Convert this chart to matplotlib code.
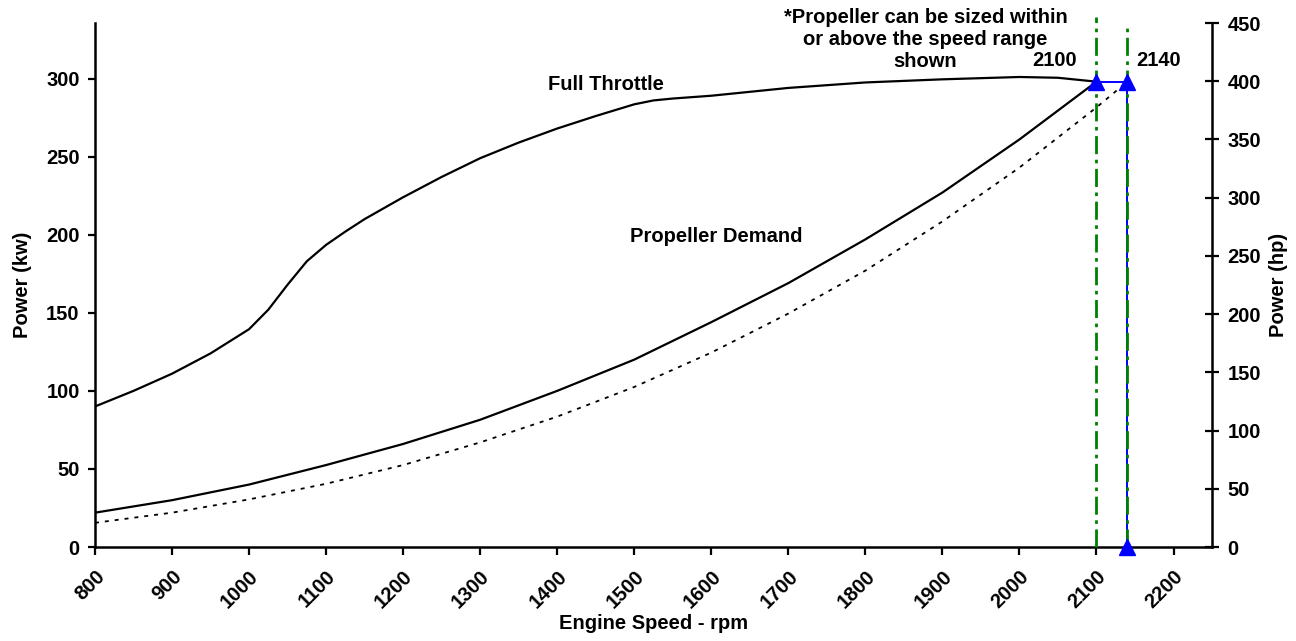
#!/usr/bin/env python3
"""Engine power curve: full throttle vs propeller demand (kW / hp)."""

import matplotlib
matplotlib.use('Agg')
import matplotlib.pyplot as plt

# Full throttle curve (rpm, kW)
ft_rpm = [800, 850, 900, 950, 1000, 1025, 1050, 1075, 1100, 1125, 1150, 1175,
          1200, 1250, 1300, 1350, 1400, 1450, 1500, 1525, 1550, 1600, 1700,
          1800, 1900, 2000, 2050, 2100]
ft_kw = [90, 100, 111, 124, 139.5, 152, 168, 183, 193.5, 202, 210, 217,
         224, 237, 249, 259, 268, 276, 283.5, 286, 287.2, 289, 294,
         297.5, 299.5, 301, 300.5, 298]

# Propeller demand (rated at 2100 rpm)
pd_rpm = [800, 900, 1000, 1100, 1200, 1300, 1400, 1500, 1600, 1700, 1800, 1900, 2000, 2100]
pd_kw = [22, 30, 40, 52.5, 66, 81.5, 100, 120, 144, 169, 197, 227, 261, 298]

# Propeller demand (rated at 2140 rpm, dotted)
pd2_rpm = [800, 900, 1000, 1100, 1200, 1300, 1400, 1500, 1600, 1700, 1800, 1900, 2000, 2100, 2140]
pd2_kw = [15.5, 22, 30.5, 40.5, 52.5, 67, 83.5, 102.5, 124.5, 149.5, 177, 208.5, 243, 281.5, 298]

# Rated points
rated_rpm = [2100, 2140, 2140]
rated_kw = [298, 298, 0]
range_labels = ['2100', '2140']
note_lines = ['*Propeller can be sized within', 'or above the speed range', 'shown']

x_ticks = list(range(800, 2201, 100))
kw_ticks = list(range(0, 301, 50))
hp_ticks = list(range(0, 451, 50))
KW_PER_HP = 0.7457

FONT = 'Liberation Sans'
FS = 14.5

plt.rcParams['font.family'] = FONT
plt.rcParams['font.weight'] = 'bold'

fig = plt.figure(figsize=(12.96, 6.41), dpi=100)
ax = fig.add_axes([0.0733, 0.1466, 0.9352 - 0.0733, 0.9641 - 0.1466])

ax.plot(ft_rpm, ft_kw, color='black', lw=1.6)
ax.plot(pd_rpm, pd_kw, color='black', lw=1.6)
ax.plot(pd2_rpm, pd2_kw, color='black', lw=1.3, linestyle=(0, (2.2, 3.3)))

# blue rated-range line and markers
ax.plot(rated_rpm, rated_kw, color='blue', lw=1.4, zorder=3)
ax.plot(rated_rpm, rated_kw, linestyle='none', marker='^', ms=11,
        color='blue', zorder=6, clip_on=False)

# green speed range lines
top_kw = 450 * KW_PER_HP
for r, ytop in zip([2100, 2140], [top_kw + 4, top_kw]):
    ax.plot([r, r], [0, ytop], color='green', lw=2.0,
            linestyle=(0, (6.5, 2.0, 1.3, 2.0)), zorder=4, clip_on=False)

ax.set_xlim(800, 2250)
ax.set_ylim(0, top_kw)
ax.set_xticks(x_ticks)
ax.set_xticklabels([str(t) for t in x_ticks], rotation=45, ha='right',
                   va='top', rotation_mode='anchor', fontsize=FS, fontweight='bold')
ax.set_yticks(kw_ticks)
ax.set_yticklabels([str(t) for t in kw_ticks], fontsize=FS, fontweight='bold')
ax.tick_params(axis='x', direction='out', length=6, width=1.6, pad=8)
ax.tick_params(axis='y', direction='out', length=5, width=1.6, pad=6)

for s in ['top', 'right']:
    ax.spines[s].set_visible(False)
for s in ['left', 'bottom']:
    ax.spines[s].set_linewidth(1.8)

ax2 = ax.twinx()
ax2.set_ylim(0, 450)
ax2.set_yticks(hp_ticks)
ax2.set_yticklabels([str(t) for t in hp_ticks], fontsize=FS, fontweight='bold')
ax2.tick_params(axis='y', direction='inout', length=10, width=1.6, pad=6)
for s in ['top', 'left', 'bottom']:
    ax2.spines[s].set_visible(False)
ax2.spines['right'].set_linewidth(1.8)

ax.set_xlabel('Engine Speed - rpm', fontsize=FS, fontweight='bold', labelpad=2)
ax.set_ylabel('Power (kw)', fontsize=FS, fontweight='bold', labelpad=10)
ax2.set_ylabel('Power (hp)', fontsize=FS, fontweight='bold', labelpad=6)

ax.text(1463, 296, 'Full Throttle', ha='center', va='center',
        fontsize=FS, fontweight='bold')
ax.text(1607, 199, 'Propeller Demand', ha='center', va='center',
        fontsize=FS, fontweight='bold')
# note, one line per text so the boxes stay tight
for line, y in zip(note_lines, [339, 325, 311]):
    ax.text(1878, y, line, ha='center', va='center', fontsize=FS, fontweight='bold')
ax.text(2045, 311.5, range_labels[0], ha='center', va='center', fontsize=FS, fontweight='bold')
ax.text(2180, 311.5, range_labels[1], ha='center', va='center', fontsize=FS, fontweight='bold')

fig.savefig('out.png', dpi=100)
